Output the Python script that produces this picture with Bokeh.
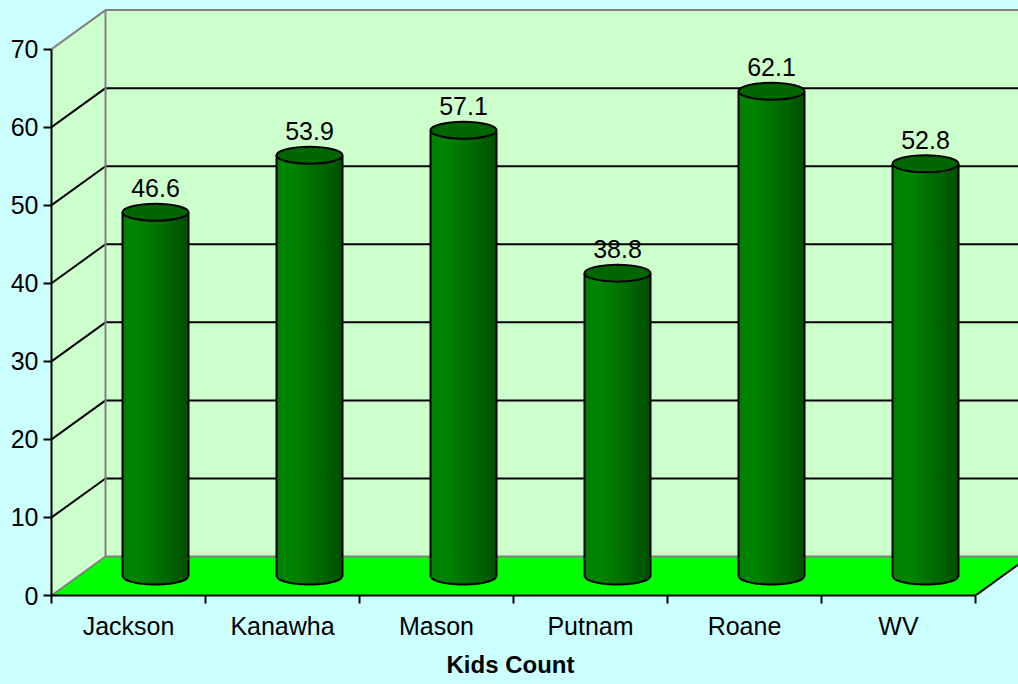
import numpy as np
from bokeh.plotting import figure
from bokeh.models import Range1d, LinearAxis, FixedTicker, Title
from bokeh.embed import file_html
from bokeh.resources import INLINE
from bokeh.core.properties import value

# ---- data ----
categories = ["Jackson", "Kanawha", "Mason", "Putnam", "Roane", "WV"]
values = [46.6, 53.9, 57.1, 38.8, 62.1, 52.8]
y_ticks = [0, 10, 20, 30, 40, 50, 60, 70]
x_title = "Kids Count"

# ---- layout / style ----
W, H = 1018, 684
BL, BB = 51, 89
KX, KY = 154.0, 7.806          # px per category / px per value unit
DX, DY = 54 / KX, 39 / KY      # depth offset (oblique projection) in data units
YMAX = y_ticks[-1]
n = len(categories)
FONT = "Liberation Sans"
BG = "#CCFFFF"
WALL = "#CCFFCC"
FLOOR = "#00FF00"
GRAY = "#808080"

p = figure(width=W, height=H, output_backend="svg", toolbar_location=None,
           x_range=Range1d(0, (W - BL) / KX), y_range=Range1d(0, (H - BB) / KY),
           x_axis_location=None, y_axis_location=None,
           min_border_left=BL, min_border_bottom=BB, min_border_top=0, min_border_right=0)
p.border_fill_color = BG
p.background_fill_color = BG
p.outline_line_color = None
p.grid.visible = False

# walls and floor
p.patch([DX, DX + n + 1, DX + n + 1, DX], [DY, DY, DY + YMAX, DY + YMAX],
        fill_color=WALL, line_color=None)
p.patch([0, DX, DX, 0], [0, DY, DY + YMAX, YMAX], fill_color=WALL, line_color=None)
p.patch([0, n, n + DX, DX], [0, 0, DY, DY], fill_color=FLOOR, line_color=None)

# gridlines on back wall and side wall
gv = np.array(y_ticks[1:-1], dtype=float)
p.segment(x0=[DX] * len(gv), y0=gv + DY, x1=[DX + n + 1] * len(gv), y1=gv + DY,
          line_color="black", line_width=2)
p.segment(x0=[0] * len(gv), y0=gv, x1=[DX] * len(gv), y1=gv + DY,
          line_color="black", line_width=2)

# wall edges
p.line([0, DX, DX + n + 1], [YMAX, YMAX + DY, YMAX + DY], line_color=GRAY, line_width=2)
p.segment(x0=[DX], y0=[DY], x1=[DX], y1=[DY + YMAX], line_color=GRAY, line_width=2)
p.line([0, DX, DX + n], [0, DY, DY], line_color=GRAY, line_width=2)
p.segment(x0=[n], y0=[0], x1=[n + DX], y1=[DY], line_color="black", line_width=2)

# cylinders
A = 33 / KX
B = 8.5 / KY
NS = 14
lo = np.array([0x00, 0x84, 0x00])
hi = np.array([0x00, 0x50, 0x00])
xs_all, ys_all, cols = [], [], []
ox, oy = [], []
xc_list, top_list = [], []
for i, v in enumerate(values):
    xc = i + 0.5 + DX / 2
    base = DY / 2
    top = v + DY / 2
    xc_list.append(xc)
    top_list.append(top)
    for k in range(NS):
        t0 = -1 + 2 * k / NS
        t1 = -1 + 2 * (k + 1) / NS
        tt = np.linspace(t0, t1, 6)
        bx = xc + A * tt
        by = base - B * np.sqrt(np.clip(1 - tt ** 2, 0, 1))
        xs_all.append([xc + A * t0] + list(bx) + [xc + A * t1])
        ys_all.append([top] + list(by) + [top])
        f = (k + 0.5) / NS
        s = min(1.0, max(0.0, (f - 0.25) / 0.75)) if f > 0.25 else 0.0
        c = lo + (hi - lo) * s
        if f < 0.25:
            c = lo - np.array([0, (0.25 - f) * 20, 0])
        cols.append("#%02x%02x%02x" % tuple(int(round(x)) for x in c))
    tt = np.linspace(-1, 1, 40)
    ox.append([xc - A] + list(xc + A * tt) + [xc + A])
    oy.append([top] + list(base - B * np.sqrt(np.clip(1 - tt ** 2, 0, 1))) + [top])

p.patches(xs_all, ys_all, fill_color=cols, line_color=cols, line_width=1)
p.multi_line(ox, oy, line_color="black", line_width=2)
p.ellipse(x=xc_list, y=top_list, width=2 * A, height=2 * B,
          fill_color="#006600", line_color="black", line_width=2)

# data labels
p.text(x=xc_list, y=top_list, text=[f"{v}" for v in values],
       text_align="center", text_baseline="alphabetic", y_offset=-24,
       text_font=value(FONT), text_font_size="25px", text_color="black")

# axes
yaxis = LinearAxis(ticker=FixedTicker(ticks=y_ticks), bounds=(0, YMAX))
yaxis.major_tick_out = 8
yaxis.major_tick_in = 0
yaxis.minor_tick_out = 0
yaxis.minor_tick_in = 0
yaxis.axis_line_width = 2
yaxis.major_tick_line_width = 2
yaxis.major_label_standoff = 5
yaxis.major_label_text_font = FONT
yaxis.major_label_text_font_size = "25px"
yaxis.major_label_text_color = "black"
p.add_layout(yaxis, "left")

xaxis = LinearAxis(ticker=FixedTicker(ticks=[i + 0.5 for i in range(n)],
                                      minor_ticks=list(range(n + 1))),
                   bounds=(0, n))
xaxis.major_label_overrides = {i + 0.5: c for i, c in enumerate(categories)}
xaxis.major_tick_out = 0
xaxis.major_tick_in = 0
xaxis.minor_tick_out = 8
xaxis.minor_tick_in = 0
xaxis.minor_tick_line_width = 2
xaxis.minor_tick_line_color = "black"
xaxis.axis_line_width = 2
xaxis.major_label_standoff = 8
xaxis.major_label_text_font = FONT
xaxis.major_label_text_font_size = "25px"
xaxis.major_label_text_color = "black"
p.add_layout(xaxis, "below")

# axis title, centred under the category span (not the whole frame)
t = Title(text=x_title, align="left", offset=395, standoff=12,
          text_font=FONT, text_font_size="24px", text_font_style="bold",
          text_color="black")
p.add_layout(t, "below")

html = file_html(p, INLINE)
html = html.replace("</head>",
                    "<style>html,body{margin:0;padding:0;background:#CCFFFF;overflow:hidden;}</style></head>", 1)
open("out.html", "w").write(html)
